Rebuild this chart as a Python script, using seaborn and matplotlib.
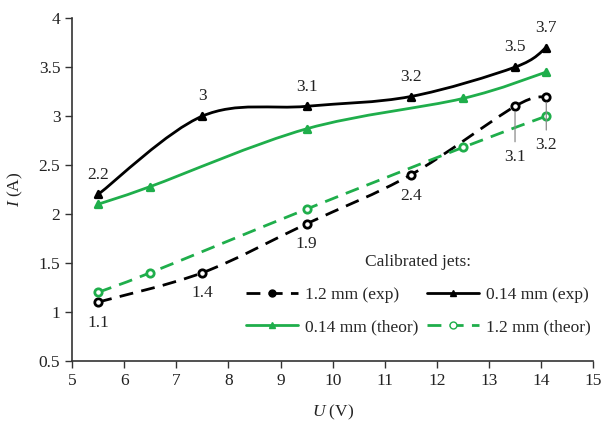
import numpy as np
import matplotlib
matplotlib.use("Agg")
import matplotlib.pyplot as plt
import seaborn as sns
from matplotlib.path import Path
from matplotlib.patches import PathPatch
from matplotlib.lines import Line2D

# data
u_exp = [5.5, 7.5, 9.5, 11.5, 13.5, 14.1]
i_014_exp = [2.2, 3.0, 3.1, 3.2, 3.5, 3.7]
i_12_exp = [1.1, 1.4, 1.9, 2.4, 3.1, 3.2]

u_theor = [5.5, 6.5, 9.5, 12.5, 14.1]
i_014_theor = [2.1, 2.28, 2.87, 3.18, 3.45]
i_12_theor = [1.2, 1.4, 2.05, 2.68, 3.0]

lab_014_exp = ["2.2", "3", "3.1", "3.2", "3.5", "3.7"]
lab_12_exp = ["1.1", "1.4", "1.9", "2.4", "3.1", "3.2"]

green = "#1fae4b"

sns.set_theme(style="white")
plt.rcParams['font.family'] = ['Liberation Serif', 'DejaVu Serif']
plt.rcParams['mathtext.fontset'] = 'custom'
plt.rcParams['mathtext.rm'] = 'Liberation Serif'
plt.rcParams['mathtext.it'] = 'Liberation Serif:italic'

fig = plt.figure(figsize=(6.01, 4.23), dpi=100)
ax = fig.add_axes([0.12, 0.147, 0.867, 0.81])


def smooth_path(x, y):
    # excel-like smoothed line as bezier segments through the points
    pts = np.column_stack([x, y]).astype(float)
    n = len(pts)
    verts = [pts[0]]
    codes = [Path.MOVETO]
    for k in range(n - 1):
        p0 = pts[k - 1] if k > 0 else pts[k]
        p1 = pts[k]
        p2 = pts[k + 1]
        p3 = pts[k + 2] if k + 2 < n else pts[k + 1]
        c1 = p1 + (p2 - p0) / 6.0
        c2 = p2 - (p3 - p1) / 6.0
        verts += [c1, c2, p2]
        codes += [Path.CURVE4] * 3
    return Path(verts, codes)


def draw(x, y, color, ls, marker, mfc, label, s):
    ax.add_patch(PathPatch(smooth_path(x, y), fill=False, edgecolor=color,
                           lw=2, linestyle=ls, zorder=2,
                           capstyle='butt'))
    sns.scatterplot(x=x, y=y, ax=ax, marker=marker, s=s, color=mfc,
                    edgecolor=color, linewidth=2, zorder=3, legend=False)
    return Line2D([], [], color=color, lw=2, ls=ls, marker=marker,
                  mfc=mfc if marker == "o" and color != "black" else color,
                  mec=color, ms=5, label=label)


dash = (0, (5, 3))
h1 = draw(u_exp, i_12_exp, "black", dash, "o", "white", "1.2 mm (exp)", 28)
h2 = draw(u_exp, i_014_exp, "black", "-", "^", "black", "0.14 mm (exp)", 22)
h3 = draw(u_theor, i_014_theor, green, "-", "^", green, "0.14 mm (theor)", 22)
h4 = draw(u_theor, i_12_theor, green, dash, "o", "white", "1.2 mm (theor)", 28)

fs = 12.5
for x, y, t in zip(u_exp, i_014_exp, lab_014_exp):
    ax.text(x, y + 0.12, t, ha='center', va='bottom', fontsize=fs, color='#222222')

for x, y, t in list(zip(u_exp, i_12_exp, lab_12_exp))[:4]:
    ax.text(x, y - 0.13, t, ha='center', va='top', fontsize=fs, color='#222222')
# labels with leader lines
ax.annotate("3.1", xy=(13.5, 3.04), xytext=(13.5, 2.58), ha='center', va='center',
            fontsize=fs, color='#222222',
            arrowprops=dict(arrowstyle='-', color='#8a8a8a', lw=0.9, shrinkA=3, shrinkB=0))
ax.annotate("3.2", xy=(14.1, 3.14), xytext=(14.1, 2.7), ha='center', va='center',
            fontsize=fs, color='#222222',
            arrowprops=dict(arrowstyle='-', color='#8a8a8a', lw=0.9, shrinkA=3, shrinkB=0))

ax.set_xlim(5, 15)
ax.set_ylim(0.5, 4)
ax.set_xticks(range(5, 16))
ax.set_yticks([0.5, 1, 1.5, 2, 2.5, 3, 3.5, 4])
ax.set_yticklabels(["0.5", "1", "1.5", "2", "2.5", "3", "3.5", "4"])
sns.despine(ax=ax)
for s in ['left', 'bottom']:
    ax.spines[s].set_color('#333333')
    ax.spines[s].set_linewidth(1.2)
ax.tick_params(axis='both', direction='out', length=5, width=1, color='#333333',
               labelsize=fs, labelcolor='#222222', bottom=True, left=True)
ax.set_xlabel("$U$ (V)", fontsize=fs, color='#222222', labelpad=10)
ax.set_ylabel("$I$ (A)", fontsize=fs, color='#222222', labelpad=10)

leg = ax.legend(handles=[h1, h3, h2, h4], ncol=2, title="Calibrated jets:",
                loc='lower right', bbox_to_anchor=(1.025, 0.03), frameon=False,
                fontsize=fs, title_fontsize=fs, handlelength=3, columnspacing=0.5,
                handletextpad=0.4, labelspacing=0.9)
leg._legend_box.sep = 12

fig.savefig("out.png", dpi=100)
